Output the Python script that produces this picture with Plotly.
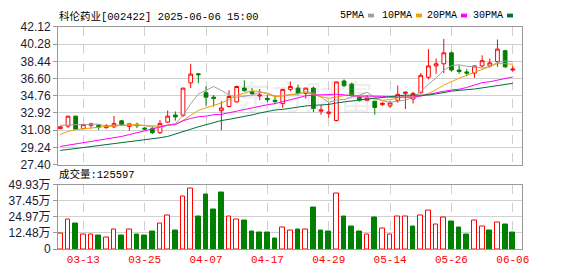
import plotly.graph_objects as go

# ---------------- data ----------------
dates = ["03-10", "03-11", "03-12", "03-13", "03-14", "03-17", "03-18", "03-19", "03-20", "03-21",
         "03-24", "03-25", "03-26", "03-27", "03-28", "03-31", "04-01", "04-02", "04-03", "04-07",
         "04-08", "04-09", "04-10", "04-11", "04-14", "04-15", "04-16", "04-17", "04-18", "04-21",
         "04-22", "04-23", "04-24", "04-25", "04-28", "04-29", "04-30", "05-06", "05-07", "05-08",
         "05-09", "05-12", "05-13", "05-14", "05-15", "05-16", "05-19", "05-20", "05-21", "05-22",
         "05-23", "05-26", "05-27", "05-28", "05-29", "05-30", "06-03", "06-04", "06-05", "06-06"]

open_ = [31.24, 31.51, 32.58, 31.24, 31.60, 31.60, 31.35, 31.44, 32.08, 31.48,
         31.70, 31.30, 31.24, 30.81, 31.94, 32.70, 32.68, 36.14, 37.11, 35.08,
         34.61, 33.16, 33.61, 34.11, 35.58, 35.18, 34.74, 34.48, 34.28, 33.94,
         35.44, 35.58, 35.01, 35.58, 33.11, 32.88, 32.11, 36.34, 36.01, 34.61,
         34.28, 34.18, 33.81, 33.68, 34.28, 35.02, 34.41, 35.08, 36.74, 37.95,
         38.18, 39.35, 37.51, 37.31, 37.18, 37.95, 37.95, 38.41, 39.58, 37.51]
high = [31.50, 32.60, 32.62, 31.72, 31.88, 31.72, 31.72, 32.60, 32.18, 31.80,
        31.88, 31.40, 31.50, 32.18, 33.18, 33.08, 35.60, 38.18, 37.20, 35.78,
        34.84, 34.18, 35.35, 35.85, 36.41, 35.58, 35.48, 34.84, 34.78, 35.51,
        36.28, 35.95, 35.60, 35.75, 33.78, 34.01, 36.25, 36.51, 36.18, 34.74,
        34.84, 34.20, 34.08, 34.18, 35.85, 35.18, 35.18, 37.18, 39.75, 38.75,
        40.85, 39.51, 38.01, 37.61, 38.01, 39.08, 38.75, 40.78, 39.68, 37.95]
low = [31.18, 31.30, 31.10, 31.20, 31.24, 31.10, 31.24, 31.30, 31.60, 31.00,
       31.30, 31.10, 30.66, 30.66, 31.85, 32.10, 32.50, 35.58, 36.10, 33.70,
       33.60, 31.07, 33.51, 34.01, 35.18, 34.78, 34.28, 34.08, 33.84, 33.44,
       35.24, 34.84, 34.44, 33.01, 32.74, 32.41, 32.01, 35.68, 34.68, 34.14,
       34.18, 32.74, 33.68, 33.44, 34.01, 33.34, 33.94, 35.01, 36.51, 37.11,
       37.18, 37.35, 37.11, 36.84, 36.68, 37.78, 37.78, 37.85, 37.75, 37.35]
close = [31.44, 32.58, 31.18, 31.68, 31.75, 31.40, 31.55, 31.78, 31.68, 31.75,
         31.55, 31.20, 30.81, 31.81, 32.58, 32.50, 35.58, 37.08, 37.01, 34.61,
         34.48, 33.45, 34.68, 35.75, 35.31, 35.01, 34.84, 34.34, 34.14, 35.44,
         35.75, 35.01, 35.58, 33.41, 33.24, 33.01, 36.24, 35.84, 34.78, 34.28,
         34.51, 33.51, 33.95, 34.00, 34.91, 35.15, 35.01, 36.95, 37.95, 38.18,
         39.35, 37.51, 37.35, 37.18, 37.95, 38.51, 38.28, 39.75, 37.85, 37.61]

ma5 = [31.58, 31.64, 31.68, 31.64, 31.73, 31.72, 31.51, 31.63, 31.63, 31.63,
       31.66, 31.59, 31.40, 31.42, 31.59, 31.78, 32.66, 33.91, 34.95, 35.36,
       35.75, 35.33, 34.85, 34.59, 34.73, 34.84, 35.12, 35.05, 34.73, 34.75,
       34.90, 34.94, 35.18, 35.04, 34.60, 34.05, 34.30, 34.35, 34.62, 34.83,
       35.13, 34.58, 34.21, 34.05, 34.18, 34.30, 34.60, 35.20, 35.99, 36.65,
       37.49, 37.99, 38.07, 37.91, 37.87, 37.70, 37.85, 38.33, 38.47, 38.40]
ma10 = [30.61, 30.94, 31.14, 31.24, 31.34, 31.41, 31.48, 31.53, 31.58, 31.68,
        31.69, 31.55, 31.52, 31.53, 31.61, 31.72, 32.12, 32.65, 33.19, 33.47,
        33.77, 33.99, 34.38, 34.77, 35.05, 35.30, 35.22, 34.95, 34.66, 34.74,
        34.87, 35.03, 35.12, 34.88, 34.68, 34.48, 34.62, 34.77, 34.83, 34.71,
        34.59, 34.44, 34.28, 34.34, 34.50, 34.72, 34.59, 34.71, 35.02, 35.41,
        35.90, 36.30, 36.64, 36.95, 37.26, 37.59, 37.92, 38.20, 38.19, 38.13]
ma20 = [29.34, 29.47, 29.61, 29.71, 29.84, 29.97, 30.11, 30.24, 30.41, 30.61,
        30.81, 31.08, 31.24, 31.48, 31.61, 31.68, 32.08, 32.34, 32.51, 32.58,
        32.73, 32.77, 32.95, 33.15, 33.33, 33.51, 33.67, 33.80, 33.92, 34.11,
        34.32, 34.51, 34.75, 34.83, 34.86, 34.89, 34.92, 34.86, 34.75, 34.73,
        34.73, 34.73, 34.70, 34.61, 34.59, 34.60, 34.61, 34.74, 34.93, 35.06,
        35.24, 35.37, 35.46, 35.65, 35.88, 36.16, 36.26, 36.45, 36.61, 36.77]
ma30 = [28.91, 29.01, 29.11, 29.21, 29.31, 29.44, 29.54, 29.64, 29.74, 29.84,
        29.97, 30.07, 30.14, 30.27, 30.41, 30.64, 30.88, 31.18, 31.44, 31.68,
        31.88, 32.11, 32.24, 32.38, 32.54, 32.71, 32.91, 33.08, 33.24, 33.30,
        33.44, 33.52, 33.67, 33.73, 33.78, 33.83, 33.99, 34.12, 34.23, 34.31,
        34.41, 34.49, 34.59, 34.66, 34.74, 34.83, 34.81, 34.81, 34.84, 34.96,
        35.12, 35.25, 35.34, 35.39, 35.48, 35.60, 35.71, 35.89, 36.01, 36.09]

# volume in 万手
volume = [12.2, 22.8, 19.8, 11.5, 11.5, 10.3, 8.6, 15.2, 10.3, 15.2,
          11.5, 10.3, 13.2, 19.6, 26.2, 14.7, 40.9, 46.8, 25.0, 41.9,
          30.8, 44.1, 25.5, 22.8, 22.0, 13.2, 12.5, 12.5, 8.1, 16.6,
          14.7, 15.4, 15.4, 32.3, 14.0, 13.2, 42.6, 25.0, 17.6, 13.2,
          11.5, 24.2, 16.2, 11.5, 25.5, 25.5, 17.6, 26.2, 30.1, 18.8,
          24.7, 21.3, 16.9, 11.0, 21.8, 17.4, 14.0, 20.3, 19.1, 12.56]

price_ticks = [27.40, 29.24, 31.08, 32.92, 34.76, 36.60, 38.44, 40.28, 42.12]
vol_ticks = [0, 12.48, 24.97, 37.45, 49.93]
vol_tick_text = ["0", "12.48万", "24.97万", "37.45万", "49.93万"]
date_ticks = ["03-13", "03-25", "04-07", "04-17", "04-29", "05-14", "05-26", "06-06"]

title_text = "科伦药业[002422] 2025-06-06 15:00"
vol_title = "成交量:125597"
ma_names = ["5PMA", "10PMA", "20PMA", "30PMA"]

# ---------------- styles ----------------
RED = "#ff0000"
GREEN = "#008000"
MA_COLORS = ["#a0a0a0", "#f0a000", "#ff00ff", "#006f3a"]
GRID = "#d0d0d0"
BORDER = "#999999"
LABEL = "#1a1a33"

fig = go.Figure()

# candlesticks
fig.add_trace(go.Candlestick(
    x=dates, open=open_, high=high, low=low, close=close,
    increasing=dict(line=dict(color=RED, width=1), fillcolor="white"),
    decreasing=dict(line=dict(color=GREEN, width=1), fillcolor=GREEN),
    whiskerwidth=0, xaxis="x", yaxis="y", hoverinfo="skip",
))

# moving averages
for name, series, col in zip(ma_names, [ma5, ma10, ma20, ma30], MA_COLORS):
    fig.add_trace(go.Scatter(x=dates, y=series, mode="lines", name=name,
                             line=dict(color=col, width=1), xaxis="x", yaxis="y",
                             hoverinfo="skip"))

# volume bars, coloured by close vs previous close
vol_up = [True] + [close[i] >= close[i - 1] for i in range(1, len(close))]
fig.add_trace(go.Bar(
    x=dates, y=volume, width=0.62,
    marker=dict(color=["white" if u else GREEN for u in vol_up],
                line=dict(color=[RED if u else GREEN for u in vol_up], width=1)),
    xaxis="x2", yaxis="y2", hoverinfo="skip",
))

H = 276.0
def py(px):
    return 1 - px / H

PLOT_L, PLOT_R = 58, 522
def pxx(px):
    return (px - PLOT_L) / (PLOT_R - PLOT_L)

axis_common = dict(showline=True, linecolor=BORDER, linewidth=1, mirror=True, zeroline=False)

fig.update_layout(
    width=578, height=276,
    margin=dict(l=PLOT_L, r=578 - PLOT_R, t=0, b=0),
    paper_bgcolor="white", plot_bgcolor="white",
    showlegend=False, bargap=0,
    xaxis=dict(type="category", range=[-0.3, 60.2], tickvals=date_ticks,
               showticklabels=False, showgrid=True, gridcolor=GRID, griddash="dash",
               rangeslider=dict(visible=False), anchor="y", ticks="", **axis_common),
    yaxis=dict(domain=[py(166), py(21)], range=[27.40, 42.12], tickvals=price_ticks,
               ticktext=[f"{v:.2f}" for v in price_ticks],
               showgrid=True, gridcolor=GRID, ticks="outside", ticklen=4, tickcolor=BORDER,
               tickfont=dict(family="Liberation Sans, Arial", size=12, color=LABEL),
               anchor="x", **axis_common),
    xaxis2=dict(type="category", range=[-0.3, 60.2], tickvals=date_ticks, ticktext=date_ticks,
                showgrid=True, gridcolor=GRID, griddash="dash", anchor="y2", matches="x",
                tickfont=dict(family="Liberation Mono, monospace", size=11, color=RED),
                ticks="", **axis_common),
    yaxis2=dict(domain=[py(255), py(187)], range=[0, 49.93], tickvals=vol_ticks,
                ticktext=vol_tick_text, showgrid=True, gridcolor=GRID,
                ticks="outside", ticklen=4, tickcolor=BORDER,
                tickfont=dict(family="Liberation Sans, Noto Sans CJK SC", size=12, color=LABEL),
                anchor="x2", **axis_common),
)

annos = []
# watermark
annos.append(dict(text="东方财富", x=pxx(305), y=py(93), xref="paper", yref="paper",
                  showarrow=False, font=dict(family="Noto Sans CJK SC", size=34,
                                             color="rgba(150,150,150,0.16)")))
annos.append(dict(text=title_text, x=pxx(57), y=py(10), xref="paper", yref="paper",
                  xanchor="left", yanchor="middle", showarrow=False,
                  font=dict(family="Liberation Mono, Noto Sans CJK SC", size=10.5, color="#000")))
annos.append(dict(text=vol_title, x=pxx(57), y=py(176), xref="paper", yref="paper",
                  xanchor="left", yanchor="middle", showarrow=False,
                  font=dict(family="Liberation Mono, Noto Sans CJK SC", size=10.5, color="#000")))

legend_x = [338, 380, 425, 471]
shapes = []
for name, col, lx in zip(ma_names, MA_COLORS, legend_x):
    annos.append(dict(text=name, x=pxx(lx), y=py(9), xref="paper", yref="paper",
                      xanchor="left", yanchor="middle", showarrow=False,
                      font=dict(family="Liberation Mono, monospace", size=10, color="#000")))
    sx = lx + len(name) * 6 + 6
    shapes.append(dict(type="rect", xref="paper", yref="paper",
                       x0=pxx(sx), x1=pxx(sx + 6), y0=py(11), y1=py(7),
                       fillcolor=col, line=dict(width=0)))

fig.update_layout(annotations=annos, shapes=shapes)

fig.write_html("out.html")
